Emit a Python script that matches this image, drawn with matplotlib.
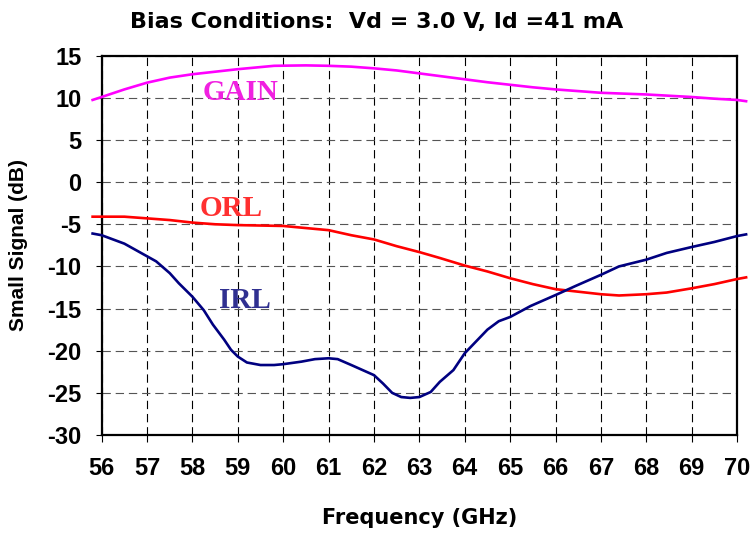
import matplotlib
matplotlib.use("Agg")
import matplotlib.pyplot as plt

# values
freq_gain = [55.8, 56.0, 56.5, 57.0, 57.5, 58.0, 58.5, 59.0, 59.8, 60.5, 61.0,
             61.5, 62.0, 62.5, 63.0, 63.5, 64.0, 64.5, 65.0, 65.5, 66.0, 66.5,
             67.0, 67.5, 68.0, 68.5, 69.0, 69.5, 70.0, 70.2]
gain = [9.75, 10.1, 11.0, 11.8, 12.4, 12.8, 13.1, 13.4, 13.8, 13.85, 13.8,
        13.7, 13.5, 13.25, 12.9, 12.55, 12.2, 11.85, 11.55, 11.25, 11.0, 10.8,
        10.6, 10.5, 10.4, 10.25, 10.1, 9.9, 9.75, 9.6]

freq_orl = [55.8, 56.5, 57.0, 57.5, 58.0, 58.5, 59.0, 60.0, 60.7, 61.0, 61.5,
            62.0, 62.5, 63.0, 63.45, 64.0, 64.5, 65.0, 65.5, 66.0, 66.5, 67.0,
            67.4, 68.0, 68.45, 69.0, 69.5, 70.0, 70.2]
orl = [-4.1, -4.1, -4.3, -4.5, -4.8, -5.0, -5.1, -5.2, -5.55, -5.7, -6.3,
       -6.8, -7.6, -8.3, -9.0, -9.9, -10.6, -11.4, -12.1, -12.7, -13.0, -13.3,
       -13.45, -13.3, -13.1, -12.6, -12.1, -11.5, -11.3]

freq_irl = [55.8, 56.0, 56.5, 57.0, 57.2, 57.5, 57.7, 58.0, 58.25, 58.45, 58.7,
            58.85, 59.0, 59.2, 59.5, 59.8, 60.0, 60.4, 60.7, 61.0, 61.2, 61.5,
            62.0, 62.2, 62.4, 62.6, 62.8, 63.0, 63.25, 63.45, 63.75, 64.0,
            64.25, 64.5, 64.75, 65.0, 65.45, 66.0, 66.45, 67.0, 67.4, 68.0,
            68.45, 69.0, 69.5, 70.0, 70.2]
irl = [-6.1, -6.3, -7.3, -8.8, -9.4, -10.8, -12.0, -13.6, -15.2, -16.9, -18.7,
       -19.9, -20.7, -21.4, -21.7, -21.7, -21.6, -21.3, -21.0, -20.9, -21.0,
       -21.7, -22.9, -23.9, -25.0, -25.5, -25.6, -25.5, -24.9, -23.7, -22.3,
       -20.3, -18.9, -17.5, -16.5, -16.0, -14.7, -13.4, -12.3, -11.0, -10.0,
       -9.2, -8.4, -7.7, -7.1, -6.4, -6.2]

x_ticks = list(range(56, 71))
y_ticks = list(range(-30, 16, 5))

plt.rcParams["lines.scale_dashes"] = False
plt.rcParams["axes.unicode_minus"] = False
sans = ["Liberation Sans", "DejaVu Sans"]
wide = ["DejaVu Sans"]

fig = plt.figure(figsize=(7.51, 5.33), dpi=100)
ax = fig.add_axes([0.1354, 0.1839, 0.8460, 0.7116])

ax.plot(freq_gain, gain, color="#FF00FF", lw=1.9, clip_on=False, zorder=3)
ax.plot(freq_orl, orl, color="#FF0000", lw=1.9, clip_on=False, zorder=3)
ax.plot(freq_irl, irl, color="#000080", lw=1.9, clip_on=False, zorder=3)

ax.set_xlim(56, 70)
ax.set_ylim(-30, 15)
ax.set_xticks(x_ticks)
ax.set_yticks(y_ticks)

ax.xaxis.grid(True, color="black", lw=0.8, dashes=(6, 3.5))
ax.yaxis.grid(True, color="#555555", lw=0.8, dashes=(6, 3.5))
ax.set_axisbelow(True)
for s in ax.spines.values():
    s.set_linewidth(1.6)

ax.tick_params(axis="x", direction="out", length=5, width=0.8, pad=11)
ax.tick_params(axis="y", direction="out", length=4.5, width=0.8, pad=10)
for lab in ax.get_xticklabels() + ax.get_yticklabels():
    lab.set_family(sans)
    lab.set_fontsize(17)
    lab.set_fontweight("bold")

ax.set_xlabel("Frequency (GHz)", family=wide, fontsize=15, fontweight="bold",
              labelpad=20)
ax.set_ylabel("Small Signal (dB)", family=sans, fontsize=15, fontweight="bold",
              labelpad=14)
ax.set_title("Bias Conditions:  Vd = 3.0 V, Id =41 mA", family=wide,
             fontsize=16, fontweight="bold", pad=20, x=0.432)

serif = ["Liberation Serif", "DejaVu Serif"]
ax.text(59.05, 10.6, "GAIN", color="#F020E0", family=serif, fontsize=21,
        fontweight="bold", ha="center", va="center")
ax.text(58.85, -3.1, "ORL", color="#FF3030", family=serif, fontsize=21,
        fontweight="bold", ha="center", va="center")
ax.text(59.15, -14.0, "IRL", color="#303090", family=serif, fontsize=21,
        fontweight="bold", ha="center", va="center")

fig.savefig("out.png", dpi=100)
